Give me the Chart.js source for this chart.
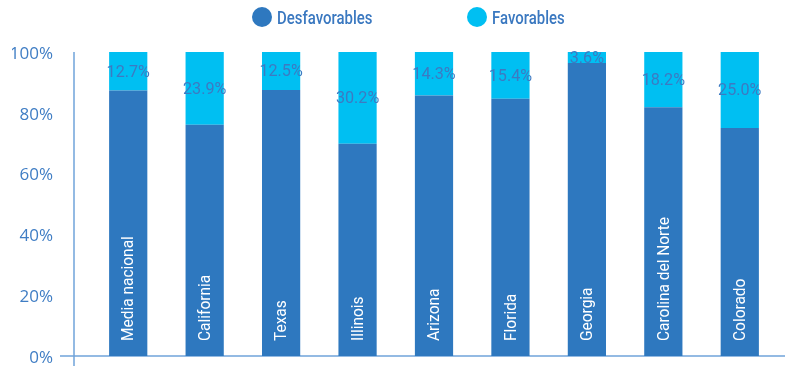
<!DOCTYPE html>
<html><head><meta charset="utf-8">
<script src="https://cdn.jsdelivr.net/npm/chart.js@4"></script>
<style>
html,body{margin:0;padding:0;background:#fff;}
#wrap{position:relative;width:785px;height:366px;overflow:hidden;}
canvas{position:absolute;left:0;top:0;}
.lg{position:absolute;top:7px;height:20px;display:flex;align-items:center;font-family:Roboto,sans-serif;font-size:18px;font-weight:500;color:#3a78c0;white-space:nowrap;}
.lg .t{display:inline-block;transform:scaleX(0.83);transform-origin:left center;}
.dot{display:inline-block;width:20px;height:20px;border-radius:50%;margin-right:5px;}
</style></head><body>
<div id="wrap"><canvas id="c" width="785" height="366"></canvas>
<div class="lg" style="left:252px"><span class="dot" style="background:#2e78bf"></span><span class="t" id="l0"></span></div>
<div class="lg" style="left:467px"><span class="dot" style="background:#00bff2"></span><span class="t" id="l1"></span></div>
</div>
<script>
const categories = ['Media nacional','California','Texas','Illinois','Arizona','Florida','Georgia','Carolina del Norte','Colorado'];
const seriesNames = ['Desfavorables','Favorables'];
const desfavorables = [87.3, 76.1, 87.5, 69.8, 85.7, 84.6, 96.4, 81.8, 75.0];
const favorables = [12.7, 23.9, 12.5, 30.2, 14.3, 15.4, 3.6, 18.2, 25.0];
const yTickLabels = ['0%','20%','40%','60%','80%','100%'];

const colDes = '#2e78bf';
const colFav = '#00bff2';
const axisCol = '#6fa3da';
const textCol = '#3f7dc4';

document.getElementById('l0').textContent = seriesNames[0];
document.getElementById('l1').textContent = seriesNames[1];

const decor = {
  id: 'decor',
  beforeDatasetsDraw(chart) {
    const {ctx, chartArea, scales: {y}} = chart;
    const y0 = y.getPixelForValue(0);
    ctx.save();
    ctx.strokeStyle = axisCol;
    ctx.lineWidth = 1.5;
    ctx.beginPath();
    ctx.moveTo(chartArea.left - 30, y0);
    ctx.lineTo(chart.width, y0);
    ctx.stroke();
    ctx.beginPath();
    ctx.moveTo(chartArea.left - 16, chartArea.top);
    ctx.lineTo(chartArea.left - 16, chart.height);
    ctx.stroke();
    ctx.restore();
  },
  afterDatasetsDraw(chart) {
    const {ctx, scales: {y}} = chart;
    const y0 = y.getPixelForValue(0);
    ctx.save();
    const m0 = chart.getDatasetMeta(0);
    ctx.fillStyle = '#ffffff';
    ctx.font = '17px Roboto, sans-serif';
    ctx.textAlign = 'left';
    ctx.textBaseline = 'middle';
    m0.data.forEach((bar, i) => {
      ctx.save();
      ctx.translate(bar.x + 1, y0 - 15);
      ctx.rotate(-Math.PI / 2);
      ctx.scale(0.91, 1);
      ctx.fillText(categories[i], 0, 0);
      ctx.restore();
    });
    const m1 = chart.getDatasetMeta(1);
    ctx.fillStyle = '#3c7ac2';
    ctx.font = '17px Roboto, sans-serif';
    ctx.textAlign = 'center';
    ctx.textBaseline = 'middle';
    m1.data.forEach((bar, i) => {
      ctx.save();
      ctx.translate(bar.x, (bar.y + bar.base) / 2 + 1);
      ctx.scale(0.95, 1);
      ctx.fillText(favorables[i].toFixed(1) + '%', 0, 0);
      ctx.restore();
    });
    ctx.restore();
  }
};

new Chart(document.getElementById('c'), {
  type: 'bar',
  data: {
    labels: categories,
    datasets: [
      {label: seriesNames[0], data: desfavorables, backgroundColor: colDes, borderWidth: 0, barPercentage: 0.5, categoryPercentage: 1},
      {label: seriesNames[1], data: favorables, backgroundColor: colFav, borderWidth: 0, barPercentage: 0.5, categoryPercentage: 1}
    ]
  },
  options: {
    responsive: false,
    animation: false,
    layout: {padding: {left: 12, top: 52, right: 7, bottom: 10}},
    plugins: {legend: {display: false}, tooltip: {enabled: false}},
    scales: {
      x: {
        stacked: true,
        grid: {display: false, drawTicks: false},
        border: {display: false},
        ticks: {display: false},
        afterFit(scale) { scale.height = 0; }
      },
      y: {
        stacked: true, min: 0, max: 100,
        grid: {display: false, drawTicks: false},
        border: {display: false},
        afterFit(scale) { scale.width = 78; scale.paddingTop = 0; scale.paddingBottom = 0; },
        ticks: {
          stepSize: 20,
          padding: 37,
          labelOffset: 2,
          color: textCol,
          font: {family: '"Open Sans", sans-serif', size: 17},
          callback: (v) => yTickLabels[v / 20]
        }
      }
    }
  },
  plugins: [decor]
});
</script>
</body></html>
